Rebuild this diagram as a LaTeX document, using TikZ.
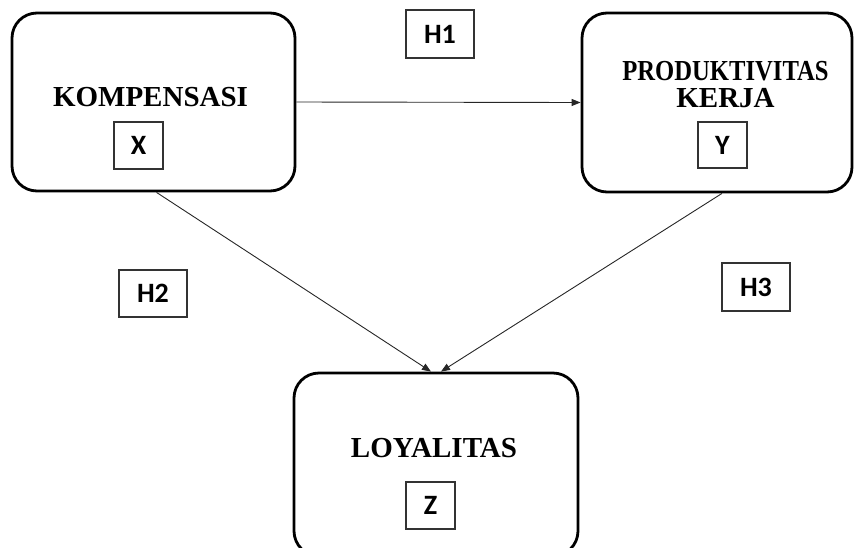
\documentclass[tikz,border=0pt]{standalone}
\usepackage{fontspec}
\setmainfont{Liberation Serif}
\newfontfamily\lblfont{Carlito}
\usetikzlibrary{arrows.meta}
\tikzset{
  bigbox/.style={draw=black, line width=2.8pt, rounded corners=25pt, inner sep=0pt},
  titletext/.style={font=\fontsize{29}{27}\selectfont\bfseries, align=center, inner sep=0pt},
  lblbox/.style={draw=black!80, line width=1.1pt, inner sep=0pt, font=\lblfont\fontsize{28}{28}\selectfont\bfseries},
  conn/.style={draw=black!85, line width=0.9pt, -{Triangle[length=9pt,width=7pt]}}
}
\begin{document}
\begin{tikzpicture}[x=1pt,y=-1pt]
\useasboundingbox (0,0) rectangle (854,547);
% big boxes
\node[bigbox, minimum width=283pt, minimum height=178pt] (komp) at (153.5,102) {};
\node[bigbox, minimum width=270pt, minimum height=179pt] (prod) at (717,102.5) {};
\node[bigbox, minimum width=284pt, minimum height=183pt] (loy) at (436,464.5) {};
% titles
\node[titletext] (kompt) at (150.5,97) {KOMPENSASI};
\node[titletext] (prodt) at (725.5,85) {\scalebox{0.85}[1]{PRODUKTIVITAS}\\KERJA};
\node[titletext] (loyt) at (434,448) {LOYALITAS};
% label boxes
\node[lblbox, minimum width=49pt, minimum height=47pt] (x) at (138.5,145.5) {X};
\node[lblbox, minimum width=49pt, minimum height=46pt] (y) at (722.5,145) {Y};
\node[lblbox, minimum width=49pt, minimum height=47pt] (z) at (430.5,505.5) {Z};
\node[lblbox, minimum width=68pt, minimum height=48pt] (h1) at (440,34) {H1};
\node[lblbox, minimum width=68pt, minimum height=47pt] (h2) at (153,293.5) {H2};
\node[lblbox, minimum width=68pt, minimum height=48pt] (h3) at (756,287) {H3};
% connectors
\draw[conn] (komp.east) -- (prod.west);
\draw[conn] ([xshift=3pt]komp.south) -- ([xshift=-5pt]loy.north);
\draw[conn] ([xshift=5pt]prod.south) -- ([xshift=5pt]loy.north);
\end{tikzpicture}
\end{document}
